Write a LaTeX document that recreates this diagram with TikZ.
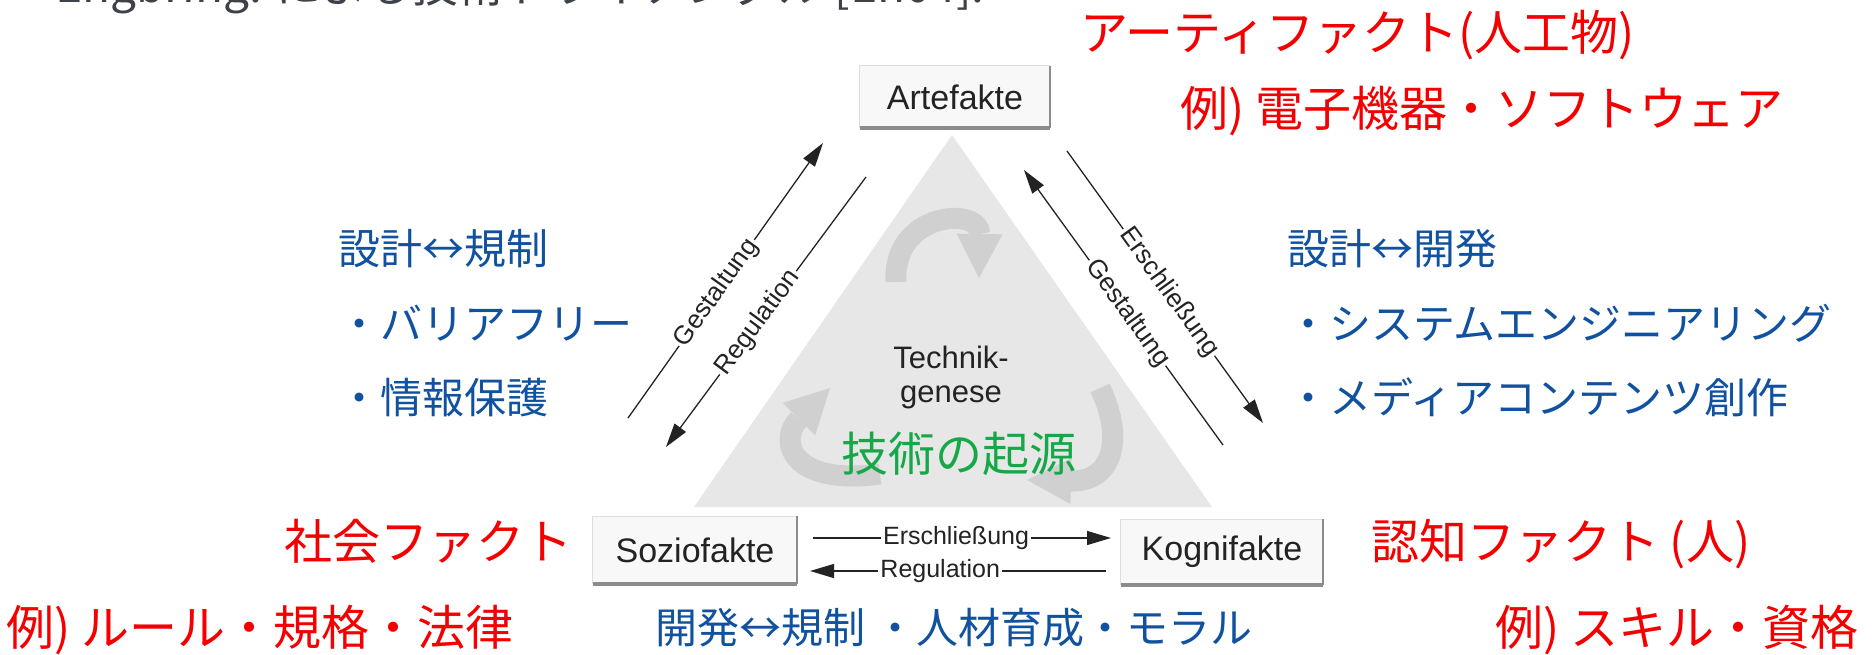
\documentclass[tikz,border=0pt]{standalone}
\usepackage{fontspec}
\setmainfont{Liberation Sans}
\newfontfamily\jp{Noto Sans CJK JP}
\usetikzlibrary{arrows.meta}
\definecolor{jred}{RGB}{245,0,0}
\definecolor{jblue}{RGB}{16,82,160}
\definecolor{jgreen}{RGB}{22,168,72}
\definecolor{tri}{RGB}{231,231,231}
\definecolor{cyc}{RGB}{208,208,208}
\definecolor{boxfill}{RGB}{248,248,248}
\definecolor{shadowc}{RGB}{140,140,140}
\definecolor{edgec}{RGB}{222,222,222}
\definecolor{ink}{RGB}{35,35,35}
\definecolor{topgray}{RGB}{62,66,72}
\begin{document}
\begin{tikzpicture}[x=1pt,y=-1pt,
  redtxt/.style={font=\jp\fontsize{48}{56}\selectfont, text=jred, anchor=base west, inner sep=0},
  bluetxt/.style={font=\jp\fontsize{42}{50}\selectfont, text=jblue, anchor=base west, inner sep=0},
  greentxt/.style={font=\jp\fontsize{47}{54}\selectfont, text=jgreen, anchor=base west, inner sep=0},
  fbox/.style={fill=boxfill, inner sep=0, font=\fontsize{34}{38}\selectfont, text=ink},
  shadowR/.style={draw=shadowc, line width=2.5pt},
  shadowB/.style={draw=shadowc, line width=4pt},
  lightedge/.style={draw=edgec, line width=1pt},
  lab/.style={font=\fontsize{26}{30}\selectfont, text=ink, fill=white, inner sep=2pt, sloped},
  hlab/.style={font=\fontsize{25}{29}\selectfont, text=ink, fill=white, inner sep=2pt},
  arr/.style={draw=ink, line width=1.3pt, -{Triangle[length=24pt,width=14pt]}},
  cycarr/.style={draw=cyc, line width=21pt, -{Triangle[length=44pt,width=46pt,line width=0pt]}},
  mid/.style={font=\fontsize{31}{36}\selectfont, text=ink, inner sep=0}
]
\useasboundingbox (0,0) rectangle (1872,654);
\clip (0,0) rectangle (1872,654);
\fill[white] (0,0) rectangle (1872,654);

% clipped heading at the top
\node[anchor=base west, font=\jp\fontsize{46}{50}\selectfont, text=topgray, inner sep=0] (title) at (55,2) {Engbring: による技術トライアングル [Eh04].};

% triangle and cycle arrows
\fill[tri] (952,135) -- (1212,507) -- (694,507) -- cycle;
\draw[cycarr] (896,282) .. controls (892,212) and (980,206) .. (979,278);
\draw[cycarr] (1100,388) .. controls (1125,440) and (1112,482) .. (1027,480);
\draw[cycarr] (880,474) .. controls (790,486) and (778,440) .. (830,388);

\node[mid] (tg1) at (951,357) {Technik-};
\node[mid] (tg2) at (951,397) {genese};
\node[greentxt] (kigen) at (841,471) {技術の起源};

% boxes
\node[fbox, minimum width=190, minimum height=62] (art) at (955,97) {Artefakte};
\node[fbox, minimum width=204, minimum height=67] (soz) at (695,550) {Soziofakte};
\node[fbox, minimum width=202, minimum height=65] (kog) at (1222,552) {Kognifakte};
\foreach \b in {art,soz,kog}{
  \draw[lightedge] (\b.south west) -- (\b.north west) -- (\b.north east);
  \draw[shadowR] (\b.north east) -- (\b.south east);
  \draw[shadowB] (\b.south west) -- (\b.south east);
}

% arrow end points
\coordinate (g1s) at (628,418);
\coordinate (g1e) at (823,143);
\coordinate (r1s) at (866,177);
\coordinate (r1e) at (666,447);
\coordinate (e2s) at (1067,151);
\coordinate (e2e) at (1263,423);
\coordinate (g2s) at (1223,445);
\coordinate (g2e) at (1024,170);
\coordinate (e3s) at (813,538);
\coordinate (e3e) at (1111,538);
\coordinate (r3s) at (1106,571);
\coordinate (r3e) at (810,571);

\draw[arr] (g1s) -- node[lab, pos=0.455] (lg1) {Gestaltung} (g1e);
\draw[arr] (r1s) -- node[lab, pos=0.54] (lr1) {Regulation} (r1e);
\draw[arr] (e2s) -- node[lab, pos=0.52] (le2) {Erschließung} (e2e);
\draw[arr] (g2s) -- node[lab, pos=0.48] (lg2) {Gestaltung} (g2e);
\draw[arr] (e3s) -- node[hlab, pos=0.48] (le3) {Erschließung} (e3e);
\draw[arr] (r3s) -- node[hlab, pos=0.56] (lr3) {Regulation} (r3e);

% red texts
\node[redtxt] (artj) at (1080,50) {アーティファクト(人工物)};
\node[redtxt] (artex) at (1180,126) {例) 電子機器・ソフトウェア};
\node[redtxt] (sozj) at (284,559) {社会ファクト};
\node[redtxt] (kogj) at (1371,559) {認知ファクト (人)};
\node[redtxt] (sozex) at (6,645) {例) ルール・規格・法律};
\node[redtxt] (kogex) at (1495,645) {例) スキル・資格};

% blue texts
\node[bluetxt] (l1) at (338,264) {設計↔規制};
\node[bluetxt] (l2) at (338,339) {・バリアフリー};
\node[bluetxt] (l3) at (338,413) {・情報保護};
\node[bluetxt] (r1) at (1287,264) {設計↔開発};
\node[bluetxt] (r2) at (1287,339) {・システムエンジニアリング};
\node[bluetxt] (r3) at (1287,413) {・メディアコンテンツ創作};
\node[bluetxt] (b1) at (655,643) {開発↔規制 ・人材育成・モラル};
\end{tikzpicture}
\end{document}
